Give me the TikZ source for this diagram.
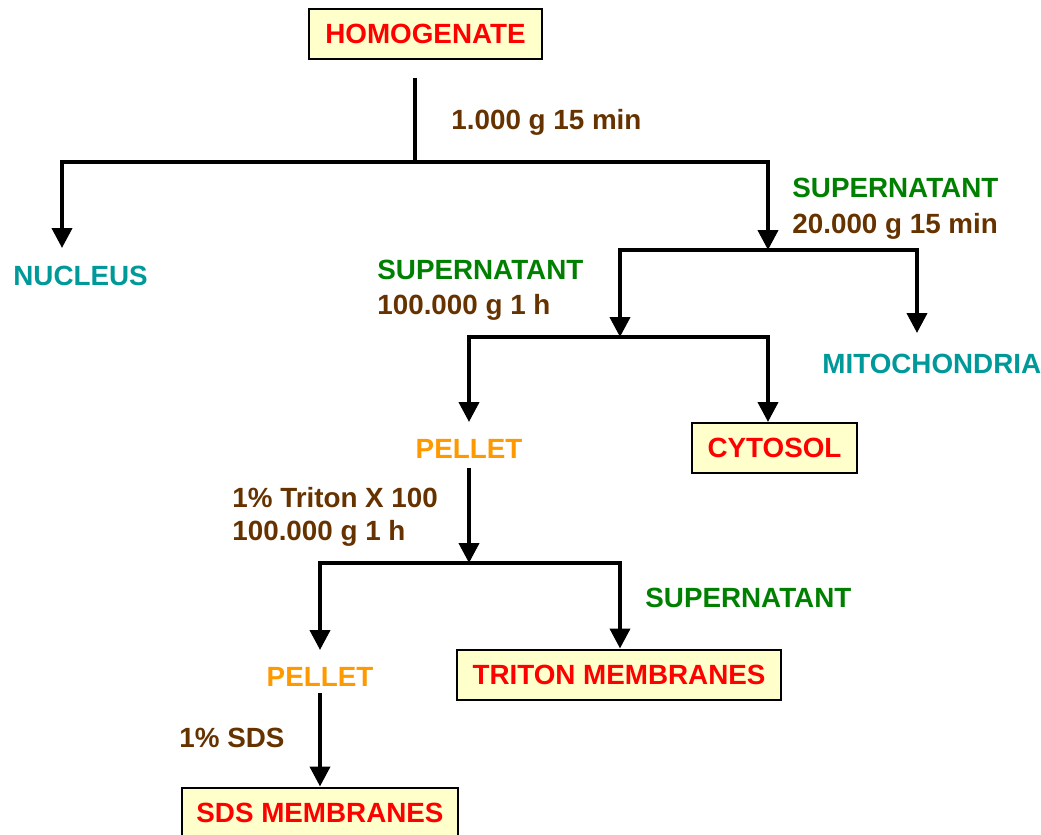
\documentclass[tikz,border=0pt]{standalone}
\usepackage{fontspec}
\setmainfont{Liberation Sans}
\usepackage{tikz}
\usetikzlibrary{arrows.meta,positioning}

\definecolor{boxred}{HTML}{FF0000}
\definecolor{boxfill}{HTML}{FFFFCC}
\definecolor{fracteal}{HTML}{009999}
\definecolor{supgreen}{HTML}{008000}
\definecolor{spinbrown}{HTML}{663300}
\definecolor{pelorange}{HTML}{FF9900}

\begin{document}
\begin{tikzpicture}[
  x=0.5pt, y=-0.5pt,
  every node/.style={font=\fontsize{13.9}{16}\selectfont\bfseries},
  resultbox/.style={rectangle, draw=black, line width=1pt, fill=boxfill, text=boxred,
    minimum height=25pt, inner sep=0pt},
  fraction/.style={text=fracteal, inner sep=0pt},
  supnote/.style={text=supgreen, anchor=base west, inner sep=0pt},
  spinnote/.style={text=spinbrown, anchor=base west, inner sep=0pt},
  pellet/.style={text=pelorange, anchor=base, inner sep=0pt},
  arr/.style={-{Triangle[length=10pt,width=10pt]}, line width=2pt, draw=black},
  stem/.style={line width=2pt, draw=black}
]
\useasboundingbox (0,0) rectangle (1041,835);

% boxes
\node[resultbox, minimum width=116.5pt] (homog) at (425.5,33.5) {HOMOGENATE};
\node[resultbox, minimum width=82.5pt] (cyto) at (774.5,448) {CYTOSOL};
\node[resultbox, minimum width=162pt] (triton) at (619,674.5) {TRITON MEMBRANES};
\node[resultbox, minimum width=138pt] (sds) at (320,812.5) {SDS MEMBRANES};

% fractions
\node[fraction, anchor=base west] (nucleus) at (13,285) {NUCLEUS};
\node[fraction, anchor=base west] (mito) at (822,373) {MITOCHONDRIA};
\node[pellet] (pel1) at (469,458) {PELLET};
\node[pellet] (pel2) at (320,686) {PELLET};

% conditions
\node[spinnote] (spin1) at (451,129) {1.000 g 15 min};
\node[supnote] (sup1) at (792,197) {SUPERNATANT};
\node[spinnote] (spin2) at (792,233) {20.000 g 15 min};
\node[supnote] (sup2) at (377,279) {SUPERNATANT};
\node[spinnote] (spin3) at (377,314) {100.000 g 1 h};
\node[spinnote] (triton1) at (232,507) {1\% Triton X 100};
\node[spinnote] (spin4) at (232,540) {100.000 g 1 h};
\node[supnote] (sup3) at (645,607) {SUPERNATANT};
\node[spinnote] (sds1) at (179,747) {1\% SDS};

% junctions
\coordinate (c1) at (415,162);
\coordinate (c2) at (768,250);
\coordinate (c3) at (620,337);
\coordinate (c4) at (469,563);
\coordinate (t1) at (62,248);
\coordinate (t2) at (917,333);
\coordinate (t3) at (469,422);
\coordinate (t4) at (320,650);

\draw[stem, shorten <=9pt] (homog.south -| c1) -- (c1);
\draw[arr] (c1) -| (t1);
\draw[arr] (c1) -| (c2);
\draw[arr] (c2) -| (c3);
\draw[arr] (c2) -| (t2);
\draw[arr] (c3) -| (t3);
\draw[arr] (c3) -| (cyto.north -| c2);
\draw[arr, shorten <=5pt] (pel1) -- (c4);
\draw[arr] (c4) -| (t4);
\draw[arr] (c4) -| (triton.north -| c3);
\draw[arr, shorten <=3.5pt] (pel2) -- (sds);

\end{tikzpicture}
\end{document}
